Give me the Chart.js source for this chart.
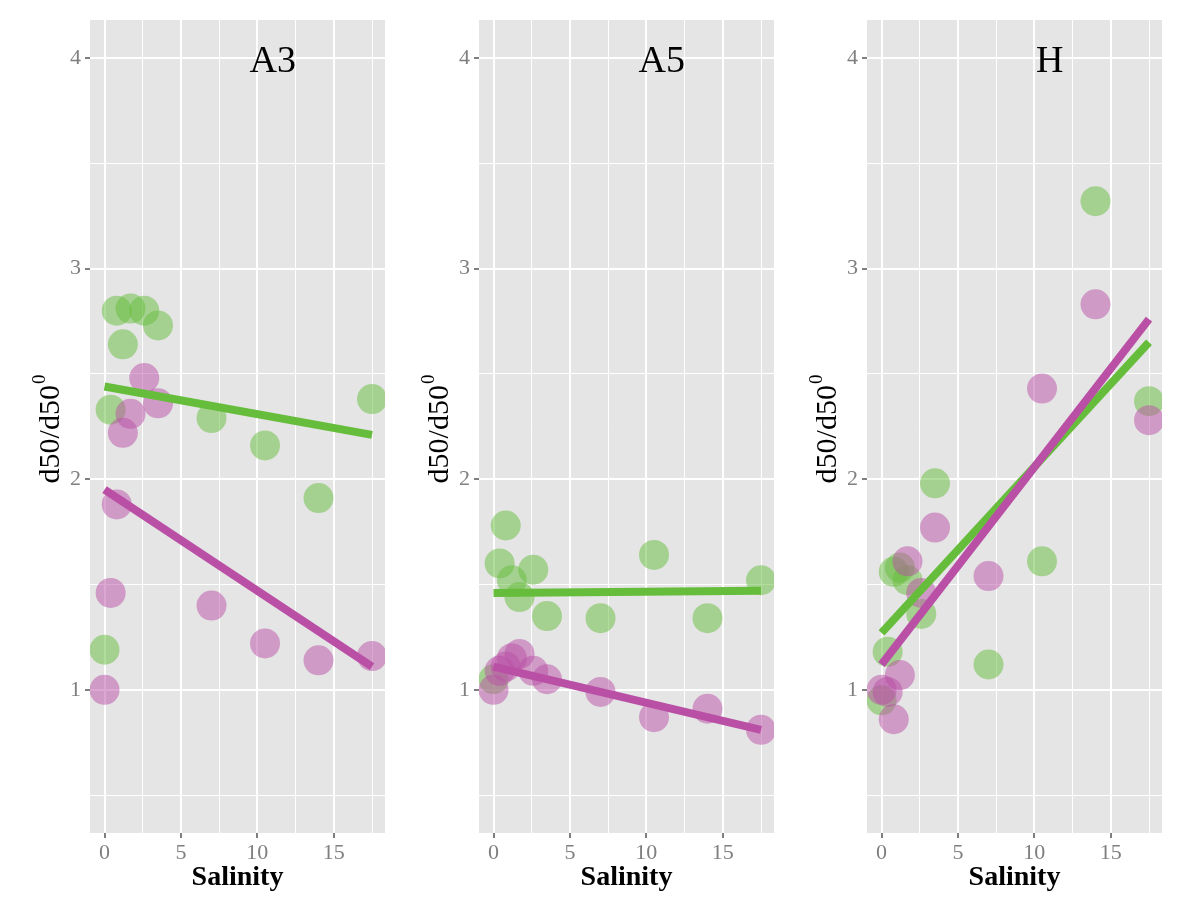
<!DOCTYPE html>
<html>
<head>
<meta charset="utf-8">
<title>d50/d50 vs Salinity</title>
<script src="https://cdn.jsdelivr.net/npm/chart.js@4.4.1/dist/chart.umd.min.js"></script>
<style>
  body { margin: 0; background: #fff; }
  #wrap { position: relative; width: 1200px; height: 900px; overflow: hidden; }
  .panel { position: absolute; top: 0; width: 390px; height: 900px; }
</style>
</head>
<body>
<div id="wrap">
  <div class="panel" style="left:0px"><canvas id="c0" width="390" height="900"></canvas></div>
  <div class="panel" style="left:389px"><canvas id="c1" width="390" height="900"></canvas></div>
  <div class="panel" style="left:777px"><canvas id="c2" width="390" height="900"></canvas></div>
</div>
<script>
// Data
const panelNames = ["A3", "A5", "H"];
const salinity = [0, 0.4, 0.8, 1.2, 1.7, 2.6, 3.5, 7, 10.5, 14, 17.5];

const greenA3  = [1.19, 2.33, 2.80, 2.64, 2.81, 2.80, 2.73, 2.29, 2.16, 1.91, 2.38];
const purpleA3 = [1.00, 1.46, 1.88, 2.22, 2.31, 2.48, 2.36, 1.40, 1.22, 1.14, 1.16];
const greenA5  = [1.05, 1.60, 1.78, 1.52, 1.44, 1.57, 1.35, 1.34, 1.64, 1.34, 1.52];
const purpleA5 = [1.00, 1.09, 1.11, 1.15, 1.17, 1.09, 1.05, 0.99, 0.87, 0.91, 0.81];
const greenH   = [0.95, 1.18, 1.56, 1.58, 1.52, 1.36, 1.98, 1.12, 1.61, 3.32, 2.37];
const purpleH  = [1.00, 0.99, 0.86, 1.07, 1.61, 1.46, 1.77, 1.54, 2.43, 2.83, 2.28];

// fitted lines (end points)
const fitX = [0, 17.5];
const greenFitA3  = [2.44, 2.21];
const purpleFitA3 = [1.95, 1.11];
const greenFitA5  = [1.46, 1.47];
const purpleFitA5 = [1.11, 0.81];
const greenFitH   = [1.27, 2.65];
const purpleFitH  = [1.12, 2.76];

const xTicks = [0, 2.5, 5, 7.5, 10, 12.5, 15, 17.5];
const yTicks = [0.5, 1, 1.5, 2, 2.5, 3, 3.5, 4];

const greens  = [greenA3, greenA5, greenH];
const purples = [purpleA3, purpleA5, purpleH];
const greenFits  = [greenFitA3, greenFitA5, greenFitH];
const purpleFits = [purpleFitA3, purpleFitA5, purpleFitH];

const SERIF = "'Liberation Serif', 'DejaVu Serif', serif";
const GREEN_LINE = "rgb(102,189,60)";
const PURPLE_LINE = "rgb(186,80,165)";
const GREEN_PT = "rgba(102,189,60,0.5)";
const PURPLE_PT = "rgba(186,80,165,0.5)";

const toXY = (xs, ys) => xs.map((x, i) => ({ x: x, y: ys[i] }));

const panelBg = {
  id: "panelBg",
  beforeDraw(chart) {
    const a = chart.chartArea, ctx = chart.ctx;
    ctx.save();
    ctx.fillStyle = "#e5e5e5";
    ctx.fillRect(a.left, a.top, a.right - a.left, a.bottom - a.top);
    ctx.restore();
  }
};

const panelText = {
  id: "panelText",
  afterDraw(chart) {
    const ctx = chart.ctx, a = chart.chartArea;
    const xs = chart.scales.x, ys = chart.scales.y;
    const name = chart.options.plugins.panelText.name;
    ctx.save();
    // panel name
    ctx.fillStyle = "#000";
    ctx.font = "38px " + SERIF;
    ctx.textAlign = "center";
    ctx.textBaseline = "alphabetic";
    ctx.fillText(name, xs.getPixelForValue(11), ys.getPixelForValue(4) + 14);
    // y title d50/d50^0
    const main = "d50/d50", sup = "0";
    ctx.font = "30px " + SERIF;
    const w1 = ctx.measureText(main).width;
    ctx.font = "19px " + SERIF;
    const w2 = ctx.measureText(sup).width;
    const cy = (a.top + a.bottom) / 2 + 3;
    ctx.translate(a.left - 31, cy);
    ctx.rotate(-Math.PI / 2);
    ctx.textAlign = "left";
    const start = -(w1 + w2) / 2;
    ctx.font = "30px " + SERIF;
    ctx.fillText(main, start, 0);
    ctx.font = "19px " + SERIF;
    ctx.fillText(sup, start + w1 + 1, -14);
    ctx.restore();
  }
};

panelNames.forEach((name, p) => {
  new Chart(document.getElementById("c" + p), {
    type: "scatter",
    data: {
      datasets: [
        { data: toXY(fitX, purpleFits[p]), showLine: true, borderColor: PURPLE_LINE, borderWidth: 8,
          borderCapStyle: "butt", pointRadius: 0, clip: 0, order: 1 },
        { data: toXY(fitX, greenFits[p]), showLine: true, borderColor: GREEN_LINE, borderWidth: 8,
          borderCapStyle: "butt", pointRadius: 0, clip: 0, order: 2 },
        { data: toXY(salinity, purples[p]), backgroundColor: PURPLE_PT, borderWidth: 0,
          pointRadius: 15, clip: 0, order: 3 },
        { data: toXY(salinity, greens[p]), backgroundColor: GREEN_PT, borderWidth: 0,
          pointRadius: 15, clip: 0, order: 4 }
      ]
    },
    options: {
      responsive: false,
      animation: false,
      events: [],
      layout: { autoPadding: false, padding: { top: 20, right: 5, left: 0, bottom: 0 } },
      plugins: {
        legend: { display: false },
        tooltip: { enabled: false },
        panelText: { name: name }
      },
      scales: {
        x: {
          type: "linear",
          min: -0.95, max: 18.35,
          afterBuildTicks: s => { s.ticks = xTicks.map(v => ({ value: v })); },
          afterFit: s => { s.height = 67; s.paddingLeft = 0; s.paddingRight = 0; },
          border: { display: false },
          grid: {
            color: "#ffffff",
            lineWidth: c => (c.tick && c.tick.value % 5 === 0 ? 2 : 1),
            tickColor: c => (c.tick && c.tick.value % 5 === 0 ? "#7f7f7f" : "rgba(0,0,0,0)"),
            tickLength: 5,
            tickWidth: 2
          },
          ticks: {
            color: "#7f7f7f",
            font: { family: SERIF, size: 22 },
            padding: 2,
            maxRotation: 0,
            autoSkip: false,
            callback: v => (v % 5 === 0 ? String(v) : "")
          },
          title: {
            display: true,
            text: "Salinity",
            color: "#000",
            font: { family: SERIF, size: 28, weight: "bold" },
            padding: { top: 0, bottom: 5 }
          }
        },
        y: {
          type: "linear",
          min: 0.32, max: 4.18,
          afterBuildTicks: s => { s.ticks = yTicks.map(v => ({ value: v })); },
          afterFit: s => { s.width = 90; },
          border: { display: false },
          grid: {
            color: "#ffffff",
            lineWidth: c => (c.tick && c.tick.value % 1 === 0 ? 2 : 1),
            tickColor: c => (c.tick && c.tick.value % 1 === 0 ? "#7f7f7f" : "rgba(0,0,0,0)"),
            tickLength: 5,
            tickWidth: 2
          },
          ticks: {
            color: "#7f7f7f",
            font: { family: SERIF, size: 22 },
            padding: 4,
            autoSkip: false,
            callback: v => (v % 1 === 0 ? String(v) : "")
          }
        }
      }
    },
    plugins: [panelBg, panelText]
  });
});
</script>
</body>
</html>
